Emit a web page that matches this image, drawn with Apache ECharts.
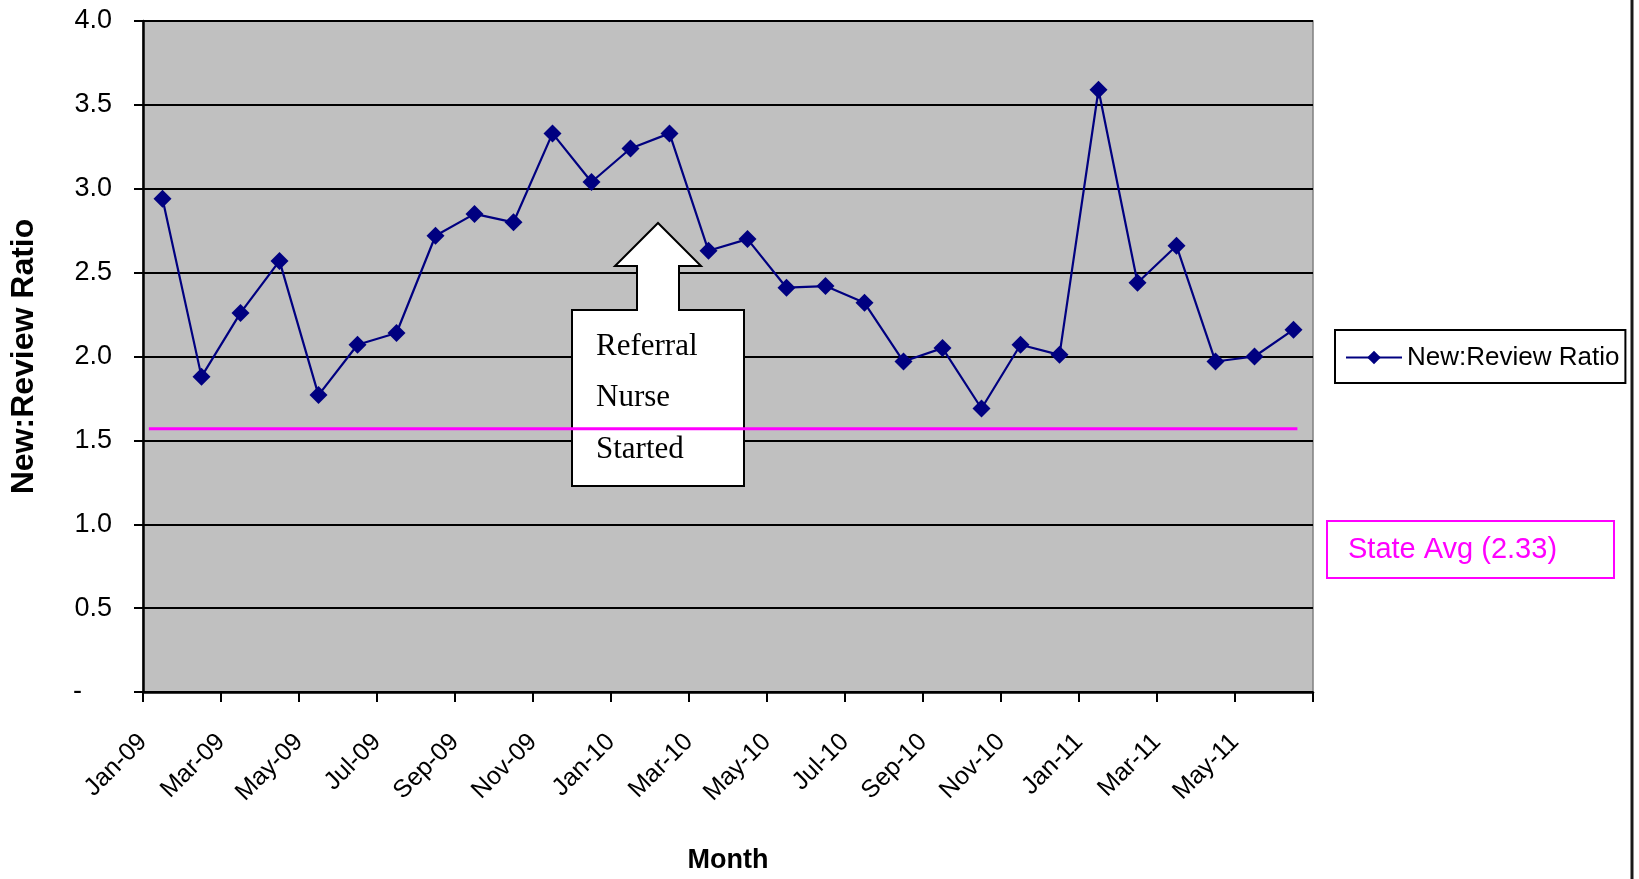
<!DOCTYPE html>
<html>
<head>
<meta charset="utf-8">
<script src="https://cdn.jsdelivr.net/npm/echarts@6/dist/echarts.min.js"></script>
<style>
  html, body { margin: 0; padding: 0; background: #ffffff; }
  #chart { width: 1639px; height: 879px; }
</style>
</head>
<body>
<div id="chart"></div>
<script>
// Monthly categories, Jan 2009 – Jun 2011
const months = [
  'Jan-09', 'Feb-09', 'Mar-09', 'Apr-09', 'May-09', 'Jun-09',
  'Jul-09', 'Aug-09', 'Sep-09', 'Oct-09', 'Nov-09', 'Dec-09',
  'Jan-10', 'Feb-10', 'Mar-10', 'Apr-10', 'May-10', 'Jun-10',
  'Jul-10', 'Aug-10', 'Sep-10', 'Oct-10', 'Nov-10', 'Dec-10',
  'Jan-11', 'Feb-11', 'Mar-11', 'Apr-11', 'May-11', 'Jun-11'
];

// New:Review ratio per month
const ratio = [
  2.94, 1.88, 2.26, 2.57, 1.77, 2.07,
  2.14, 2.72, 2.85, 2.80, 3.33, 3.04,
  3.24, 3.33, 2.63, 2.70, 2.41, 2.42,
  2.32, 1.97, 2.05, 1.69, 2.07, 2.01,
  3.59, 2.44, 2.66, 1.97, 2.00, 2.16
];

// Reference line drawn across the plot (level, and start/end in months)
const stateAvgLevel = 1.57;
const stateAvgSpan = [0.15, 29.6];
const stateAvgLabel = 'State Avg (2.33)';

const seriesName = 'New:Review Ratio';
const noteLines = ['Referral', 'Nurse', 'Started'];

const FONT = '"Liberation Sans", Arial, sans-serif';

// Each month sits in the middle of its one-month band on a continuous axis
const ratioPoints = ratio.map((v, i) => [i + 0.5, v]);
const avgPoints = stateAvgSpan.map(x => [x, stateAvgLevel]);

const chart = echarts.init(document.getElementById('chart'), null, { renderer: 'canvas' });

// Annotation: box with an upward arrow on top
const noteShape = [
  [572, 310], [637, 310], [637, 266], [615, 266], [658, 223],
  [701, 266], [679, 266], [679, 310], [744, 310], [744, 486], [572, 486]
];

const option = {
  backgroundColor: '#ffffff',
  animation: false,
  grid: {
    left: 142, top: 21, width: 1171, height: 673,
    show: true,
    backgroundColor: '#C0C0C0',
    borderColor: '#808080',
    borderWidth: 1.5
  },
  legend: {
    data: [seriesName],
    left: 1335, top: 330,
    orient: 'horizontal',
    borderColor: '#000000',
    borderWidth: 2,
    borderRadius: 0,
    backgroundColor: '#ffffff',
    padding: [11, 6, 9, 10],
    itemWidth: 56,
    itemHeight: 17,
    textStyle: { fontFamily: FONT, fontSize: 26, color: '#000000', lineHeight: 33 }
  },
  xAxis: {
    type: 'value',
    min: 0, max: 30, interval: 2,
    name: 'Month',
    nameLocation: 'middle',
    nameGap: 155,
    nameTextStyle: { fontFamily: FONT, fontSize: 27, fontWeight: 'bold', color: '#000000' },
    axisLine: { show: true, lineStyle: { color: '#000000', width: 2.5 } },
    axisTick: { show: true, length: 10, lineStyle: { color: '#000000', width: 2 } },
    splitLine: { show: false },
    axisLabel: {
      rotate: 45,
      margin: 46,
      fontFamily: FONT,
      fontSize: 25,
      color: '#000000',
      showMaxLabel: true,
      formatter: v => v < months.length && months[v] !== undefined ? months[v] : ''
    }
  },
  yAxis: {
    type: 'value',
    min: 0, max: 4, interval: 0.5,
    name: 'New:Review Ratio',
    nameLocation: 'middle',
    nameRotate: 90,
    nameGap: 103,
    nameTextStyle: { fontFamily: FONT, fontSize: 32, fontWeight: 'bold', color: '#000000' },
    axisLine: { show: true, lineStyle: { color: '#000000', width: 2.5 } },
    axisTick: { show: true, length: 9, lineStyle: { color: '#000000', width: 2 } },
    splitLine: { show: true, lineStyle: { color: '#000000', width: 2 } },
    axisLabel: {
      margin: 31,
      fontFamily: FONT,
      fontSize: 27,
      color: '#000000',
      formatter: v => v === 0 ? '-\u2007\u2007' : v.toFixed(1)
    }
  },
  series: [
    {
      name: seriesName,
      type: 'line',
      data: ratioPoints,
      color: '#000080',
      lineStyle: { color: '#000080', width: 2.2 },
      itemStyle: { color: '#000080' },
      symbol: 'diamond',
      symbolSize: 18,
      showAllSymbol: true,
      z: 3
    },
    {
      name: stateAvgLabel,
      type: 'line',
      data: avgPoints,
      color: '#FF00FF',
      lineStyle: { color: '#FF00FF', width: 3 },
      symbol: 'none',
      silent: true,
      z: 4
    }
  ],
  graphic: [
    {
      type: 'polygon',
      z: 1,
      shape: { points: noteShape },
      style: { fill: '#ffffff', stroke: '#000000', lineWidth: 2 }
    },
    ...noteLines.map((t, i) => ({
      type: 'text',
      z: 1,
      left: 596,
      top: 331 + i * 51.5,
      style: {
        text: t,
        fill: '#000000',
        font: '31px "Liberation Serif", "Times New Roman", serif'
      }
    })),
    {
      type: 'rect',
      z: 5,
      shape: { x: 1327, y: 521, width: 287, height: 57 },
      style: { fill: '#ffffff', stroke: '#FF00FF', lineWidth: 2 }
    },
    {
      type: 'text',
      z: 6,
      left: 1348,
      top: 535,
      style: {
        text: stateAvgLabel,
        fill: '#FF00FF',
        font: '29px ' + FONT
      }
    },
    {
      type: 'line',
      z: 5,
      shape: { x1: 1632, y1: 0, x2: 1632, y2: 879 },
      style: { stroke: '#1a1a1a', lineWidth: 3 }
    }
  ]
};

chart.setOption(option);
</script>
</body>
</html>
